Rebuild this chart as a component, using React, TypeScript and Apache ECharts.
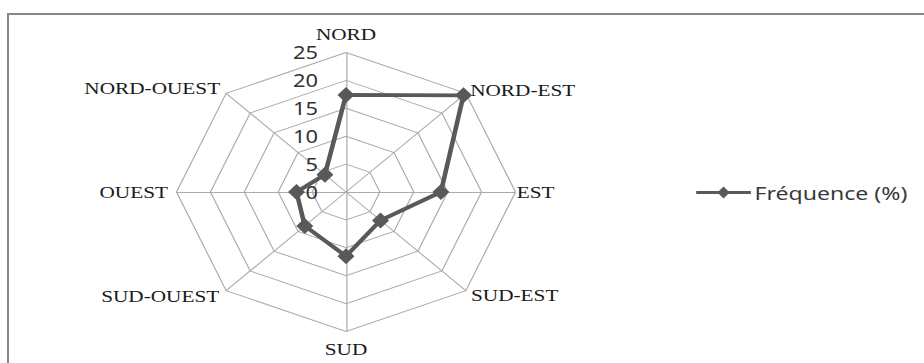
import { useEffect, useRef } from "react";
import * as echarts from "echarts";

// Wind directions, listed clockwise from the north
const directions = [
  "NORD",
  "NORD-EST",
  "EST",
  "SUD-EST",
  "SUD",
  "SUD-OUEST",
  "OUEST",
  "NORD-OUEST",
];
// Frequency of each direction, in percent
const frequencies = [17.4, 24.5, 14.0, 7.2, 11.5, 8.6, 7.3, 4.4];
const seriesName = "Fréquence (%)";
const axisMin = 0;
const axisMax = 25;
const axisSplits = 5;

// Gap between each direction's name and the outer ring
const nameGaps = [1, 5, 1, 6, 9, 8, 7, 7];

// Radar axes run counter-clockwise from the top, so feed the compass in that order
const drawOrder = [0, 7, 6, 5, 4, 3, 2, 1];

const WIDTH = 924;
const HEIGHT = 363;
// The figure is stretched horizontally
const STRETCH = 1.215;
const INNER_WIDTH = WIDTH / STRETCH;

const LINE_COLOR = "#595959";
const GRID_COLOR = "#ababab";

// Legend key: a short line with a diamond in its middle
const legendIcon =
  "path://M0,4.5 H18.75 L22.5,0 L26.25,4.5 H45 V7.5 H26.25 L22.5,12 L18.75,7.5 H0 Z";

export default function App() {
  const ref = useRef<HTMLDivElement>(null);

  useEffect(() => {
    if (!ref.current) return;
    const chart = echarts.init(ref.current, null, { renderer: "svg" });

    const indicator = drawOrder.map((i, k) => ({
      name: directions[i],
      min: axisMin,
      max: axisMax,
      nameGap: nameGaps[i],
      axisLabel: { show: k === 0 },
    }));

    chart.setOption({
      animation: false,
      backgroundColor: "#ffffff",
      legend: {
        data: [{ name: seriesName, icon: legendIcon }],
        left: 568,
        top: 178,
        itemWidth: 45,
        itemHeight: 12,
        itemGap: 0,
        itemStyle: { color: LINE_COLOR, borderWidth: 0 },
        textStyle: {
          fontFamily: "Noto Sans",
          fontSize: 19,
          color: "#3a3a3a",
          padding: [0, 0, 0, -2],
        },
        selectedMode: false,
      },
      radar: {
        center: [346 / STRETCH, 192],
        radius: 139.5,
        shape: "polygon",
        splitNumber: axisSplits,
        axisName: {
          color: "#1a1a1a",
          fontFamily: "Liberation Serif",
          fontSize: 17.5,
        },
        axisLine: { lineStyle: { color: GRID_COLOR, width: 1 } },
        splitLine: { lineStyle: { color: GRID_COLOR, width: 1 } },
        splitArea: { show: false },
        axisTick: { show: false },
        axisLabel: {
          show: false,
          margin: 23,
          color: "#333333",
          fontFamily: "Noto Sans",
          fontSize: 18,
        },
        indicator,
      },
      series: [
        {
          type: "radar",
          name: seriesName,
          symbol: "diamond",
          symbolSize: [14, 16],
          lineStyle: { color: LINE_COLOR, width: 3.8 },
          itemStyle: { color: LINE_COLOR },
          data: [
            {
              name: seriesName,
              value: drawOrder.map((i) => frequencies[i]),
            },
          ],
        },
      ],
    });

    return () => chart.dispose();
  }, []);

  return (
    <div
      style={{
        position: "absolute",
        left: 0,
        top: 0,
        width: WIDTH,
        height: HEIGHT,
        overflow: "hidden",
        background: "#ffffff",
      }}
    >
      <div
        ref={ref}
        style={{
          position: "absolute",
          left: 0,
          top: 0,
          width: INNER_WIDTH,
          height: HEIGHT,
          transform: `scaleX(${STRETCH})`,
          transformOrigin: "0 0",
        }}
      />
      <div
        style={{
          position: "absolute",
          left: 7,
          top: 13,
          right: 0,
          bottom: 0,
          borderTop: "2px solid #868686",
          borderLeft: "2px solid #868686",
          pointerEvents: "none",
        }}
      />
    </div>
  );
}
